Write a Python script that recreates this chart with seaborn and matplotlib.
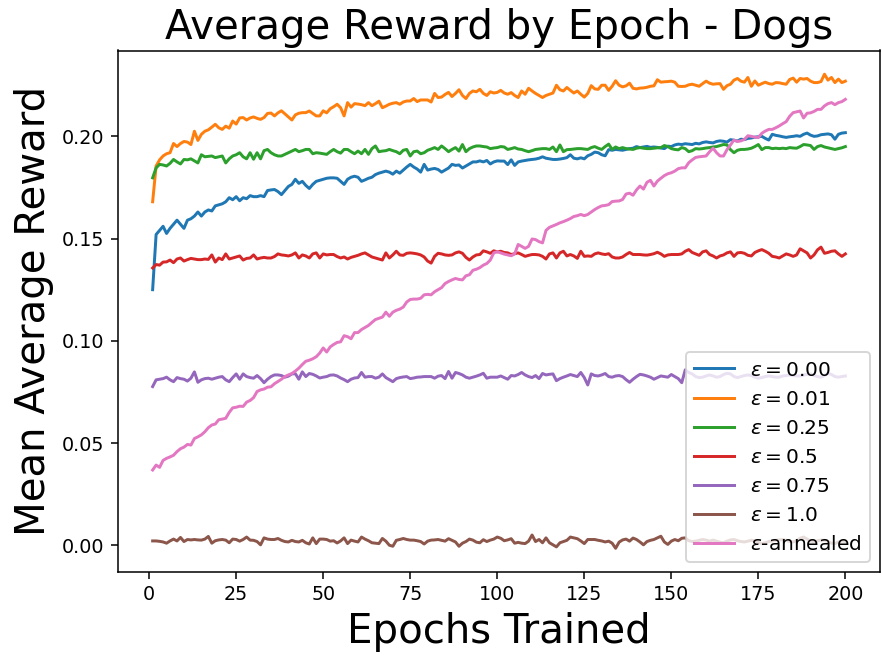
import numpy as np
import pandas as pd
import matplotlib
matplotlib.use("Agg")
import matplotlib.pyplot as plt
import seaborn as sns

# ---- data (mean average reward per epoch) ----
eps_000 = [
    0.125, 0.152, 0.154, 0.156, 0.1525, 0.155, 0.157, 0.159, 0.157, 0.155,
    0.159, 0.1597, 0.161, 0.163, 0.161, 0.163, 0.164, 0.1635, 0.166, 0.1665,
    0.167, 0.168, 0.170, 0.169, 0.1705, 0.1685, 0.170, 0.1695, 0.171, 0.1705,
    0.1705, 0.171, 0.1705, 0.1735, 0.1738, 0.174, 0.173, 0.1715, 0.1735, 0.1755,
    0.1765, 0.179, 0.177, 0.178, 0.176, 0.1745, 0.1765, 0.178, 0.1785, 0.179,
    0.1795, 0.1797, 0.1797, 0.1795, 0.178, 0.1765, 0.179, 0.180, 0.1805, 0.180,
    0.178, 0.1787, 0.1795, 0.180, 0.1813, 0.182, 0.1825, 0.183, 0.1825, 0.1815,
    0.183, 0.182, 0.1835, 0.185, 0.1863, 0.185, 0.184, 0.1825, 0.1863, 0.1835,
    0.184, 0.1843, 0.1838, 0.1825, 0.1835, 0.1845, 0.1863, 0.1858, 0.186, 0.1845,
    0.1855, 0.1865, 0.1875, 0.1875, 0.188, 0.1875, 0.1882, 0.1865, 0.1875, 0.188,
    0.1879, 0.1879, 0.1862, 0.1885, 0.1858, 0.1875, 0.1879, 0.1882, 0.1885, 0.1887,
    0.1889, 0.1893, 0.1900, 0.1893, 0.1890, 0.1887, 0.1887, 0.1889, 0.1892, 0.1896,
    0.1910, 0.1893, 0.1890, 0.1895, 0.1890, 0.1905, 0.1912, 0.1923, 0.1920, 0.1910,
    0.1905, 0.1935, 0.1932, 0.1936, 0.1934, 0.1932, 0.1936, 0.1940, 0.1942, 0.1950,
    0.1945, 0.1948, 0.1951, 0.1946, 0.1948, 0.1946, 0.1943, 0.1940, 0.1952, 0.1950,
    0.1958, 0.1962, 0.1960, 0.1964, 0.1962, 0.1960, 0.1966, 0.1963, 0.1970, 0.1973,
    0.1970, 0.1968, 0.1975, 0.1978, 0.1976, 0.1972, 0.1984, 0.1981, 0.1977, 0.1986,
    0.1984, 0.1990, 0.1992, 0.1996, 0.1998, 0.2000, 0.1990, 0.1982, 0.2010, 0.2005,
    0.2002, 0.1998, 0.1995, 0.1998, 0.2000, 0.2003, 0.2000, 0.2010, 0.2016, 0.2006,
    0.2000, 0.2002, 0.2008, 0.2010, 0.2012, 0.2008, 0.1986, 0.2010, 0.2016, 0.2018,
]

eps_001 = [
    0.168, 0.1855, 0.1885, 0.1904, 0.1915, 0.192, 0.1965, 0.195, 0.1965, 0.1975,
    0.1972, 0.196, 0.2025, 0.198, 0.201, 0.2025, 0.2032, 0.2045, 0.2059, 0.2042,
    0.2034, 0.2050, 0.2040, 0.2075, 0.2060, 0.2090, 0.2092, 0.2080, 0.2090, 0.2095,
    0.2088, 0.2083, 0.2092, 0.2112, 0.2114, 0.2100, 0.2115, 0.2125, 0.2110, 0.2095,
    0.2080, 0.2105, 0.2113, 0.2116, 0.2116, 0.2124, 0.2112, 0.2100, 0.2100, 0.2125,
    0.2115, 0.2135, 0.2145, 0.2157, 0.2140, 0.2100, 0.2165, 0.2143, 0.2160, 0.2158,
    0.2155, 0.2150, 0.2165, 0.2150, 0.2160, 0.2172, 0.2140, 0.2148, 0.2157, 0.2162,
    0.2165, 0.2157, 0.2168, 0.2173, 0.2173, 0.2185, 0.2170, 0.2178, 0.2178, 0.2178,
    0.2168, 0.2210, 0.2190, 0.2192, 0.2205, 0.2215, 0.2195, 0.2210, 0.2228, 0.2200,
    0.2185, 0.2210, 0.2222, 0.2218, 0.2230, 0.2210, 0.2200, 0.2218, 0.2212, 0.2215,
    0.2225, 0.2212, 0.2206, 0.2214, 0.2200, 0.2190, 0.2222, 0.2206, 0.2235, 0.2222,
    0.2210, 0.2200, 0.2190, 0.2200, 0.2206, 0.2212, 0.2250, 0.2228, 0.2222, 0.2239,
    0.2225, 0.2212, 0.2222, 0.2206, 0.2192, 0.2210, 0.2248, 0.2232, 0.2230, 0.2250,
    0.2250, 0.2225, 0.2245, 0.2272, 0.2250, 0.2242, 0.2247, 0.2260, 0.2235, 0.2232,
    0.2236, 0.2237, 0.2240, 0.2245, 0.2247, 0.2277, 0.2265, 0.2267, 0.2268, 0.2270,
    0.2265, 0.2245, 0.2244, 0.2245, 0.2252, 0.2255, 0.2250, 0.2245, 0.2258, 0.2270,
    0.2260, 0.2255, 0.2257, 0.2258, 0.2230, 0.2248, 0.2255, 0.2275, 0.2283, 0.2270,
    0.2265, 0.2288, 0.2245, 0.2271, 0.2250, 0.2258, 0.2265, 0.2258, 0.2255, 0.2263,
    0.2262, 0.2258, 0.2255, 0.2278, 0.2285, 0.2265, 0.2283, 0.2280, 0.2283, 0.2270,
    0.2263, 0.2263, 0.2268, 0.2304, 0.2275, 0.2288, 0.2263, 0.2280, 0.2263, 0.2270,
]

eps_025 = [
    0.1797, 0.1846, 0.1863, 0.1860, 0.1855, 0.1868, 0.1887, 0.1875, 0.1865, 0.1887,
    0.1885, 0.1890, 0.1880, 0.1870, 0.1910, 0.1900, 0.1902, 0.1904, 0.1896, 0.1900,
    0.1904, 0.1870, 0.1890, 0.1904, 0.1910, 0.1920, 0.1900, 0.1890, 0.1920, 0.1888,
    0.1920, 0.1890, 0.1930, 0.1936, 0.1920, 0.1910, 0.1904, 0.1904, 0.1912, 0.1920,
    0.1928, 0.1936, 0.1925, 0.1930, 0.1936, 0.1936, 0.1915, 0.1920, 0.1918, 0.1915,
    0.1912, 0.1925, 0.1936, 0.1925, 0.1918, 0.1936, 0.1936, 0.1925, 0.1915, 0.1928,
    0.1915, 0.1936, 0.1912, 0.1940, 0.1953, 0.1925, 0.1928, 0.1930, 0.1936, 0.1930,
    0.1925, 0.1915, 0.1932, 0.1936, 0.1904, 0.1925, 0.1928, 0.1915, 0.1920, 0.1932,
    0.1938, 0.1945, 0.1936, 0.1953, 0.1940, 0.1925, 0.1936, 0.1945, 0.1928, 0.1960,
    0.1925, 0.1940, 0.1948, 0.1953, 0.1953, 0.1950, 0.1948, 0.1940, 0.1943, 0.1945,
    0.1950, 0.1948, 0.1936, 0.1940, 0.1945, 0.1938, 0.1936, 0.1930, 0.1925, 0.1930,
    0.1936, 0.1938, 0.1940, 0.1940, 0.1936, 0.1948, 0.1925, 0.1958, 0.1925, 0.1935,
    0.1936, 0.1938, 0.1940, 0.1940, 0.1938, 0.1936, 0.1945, 0.1950, 0.1942, 0.1936,
    0.1950, 0.1962, 0.1936, 0.1948, 0.1940, 0.1945, 0.1940, 0.1938, 0.1936, 0.1942,
    0.1945, 0.1942, 0.1940, 0.1940, 0.1942, 0.1944, 0.1945, 0.1955, 0.1950, 0.1940,
    0.1936, 0.1934, 0.1945, 0.1940, 0.1925, 0.1930, 0.1940, 0.1938, 0.1940, 0.1943,
    0.1945, 0.1948, 0.1950, 0.1955, 0.1960, 0.1958, 0.1935, 0.1920, 0.1932, 0.1936,
    0.1936, 0.1938, 0.1942, 0.1950, 0.1960, 0.1935, 0.1945, 0.1945, 0.1940, 0.1942,
    0.1940, 0.1942, 0.1940, 0.1945, 0.1943, 0.1942, 0.1950, 0.1960, 0.1958, 0.1955,
    0.1936, 0.1950, 0.1955, 0.1948, 0.1944, 0.1940, 0.1936, 0.1940, 0.1944, 0.1950,
]

eps_050 = [
    0.1356, 0.1373, 0.1370, 0.1385, 0.1386, 0.1395, 0.1382, 0.1400, 0.1405, 0.1390,
    0.1397, 0.1403, 0.1400, 0.1397, 0.1397, 0.1400, 0.1398, 0.1420, 0.1385, 0.1405,
    0.1397, 0.1425, 0.1400, 0.1405, 0.1410, 0.1415, 0.1395, 0.1403, 0.1405, 0.1420,
    0.1400, 0.1405, 0.1408, 0.1405, 0.1405, 0.1412, 0.1425, 0.1420, 0.1418, 0.1415,
    0.1420, 0.1430, 0.1405, 0.1420, 0.1415, 0.1405, 0.1425, 0.1430, 0.1405, 0.1425,
    0.1420, 0.1422, 0.1422, 0.1412, 0.1405, 0.1410, 0.1400, 0.1408, 0.1413, 0.1418,
    0.1425, 0.1430, 0.1420, 0.1410, 0.1405, 0.1400, 0.1395, 0.1430, 0.1405, 0.1420,
    0.1438, 0.1420, 0.1418, 0.1428, 0.1430, 0.1428, 0.1425, 0.1420, 0.1410, 0.1390,
    0.1380, 0.1413, 0.1428, 0.1425, 0.1420, 0.1418, 0.1420, 0.1430, 0.1435, 0.1428,
    0.1408, 0.1395, 0.1410, 0.1420, 0.1422, 0.1440, 0.1435, 0.1428, 0.1440, 0.1435,
    0.1438, 0.1432, 0.1430, 0.1422, 0.1426, 0.1430, 0.1422, 0.1413, 0.1418, 0.1422,
    0.1422, 0.1420, 0.1413, 0.1400, 0.1425, 0.1430, 0.1405, 0.1430, 0.1438, 0.1415,
    0.1422, 0.1415, 0.1403, 0.1438, 0.1413, 0.1415, 0.1413, 0.1425, 0.1430, 0.1425,
    0.1422, 0.1426, 0.1410, 0.1405, 0.1405, 0.1410, 0.1422, 0.1432, 0.1422, 0.1422,
    0.1422, 0.1420, 0.1419, 0.1422, 0.1426, 0.1433, 0.1425, 0.1413, 0.1420, 0.1422,
    0.1422, 0.1422, 0.1425, 0.1438, 0.1446, 0.1432, 0.1425, 0.1418, 0.1435, 0.1440,
    0.1422, 0.1415, 0.1405, 0.1415, 0.1420, 0.1430, 0.1435, 0.1413, 0.1430, 0.1432,
    0.1428, 0.1418, 0.1415, 0.1432, 0.1440, 0.1446, 0.1438, 0.1428, 0.1413, 0.1410,
    0.1405, 0.1415, 0.1425, 0.1420, 0.1413, 0.1420, 0.1450, 0.1440, 0.1430, 0.1405,
    0.1420, 0.1445, 0.1458, 0.1428, 0.1432, 0.1438, 0.1440, 0.1425, 0.1413, 0.1425,
]

eps_075 = [
    0.0776, 0.0809, 0.0812, 0.0815, 0.0822, 0.0809, 0.0800, 0.0820, 0.0815, 0.0812,
    0.0803, 0.0817, 0.0848, 0.0797, 0.0809, 0.0815, 0.0817, 0.0812, 0.0817, 0.0822,
    0.0825, 0.0809, 0.0800, 0.0820, 0.0838, 0.0812, 0.0838, 0.0825, 0.0820, 0.0817,
    0.0830, 0.0815, 0.0795, 0.0812, 0.0825, 0.0833, 0.0833, 0.0830, 0.0822, 0.0827,
    0.0838, 0.0839, 0.0812, 0.0848, 0.0825, 0.0840, 0.0836, 0.0828, 0.0818, 0.0822,
    0.0825, 0.0832, 0.0833, 0.0828, 0.0818, 0.0810, 0.0800, 0.0812, 0.0818, 0.0820,
    0.0845, 0.0822, 0.0825, 0.0825, 0.0817, 0.0822, 0.0838, 0.0820, 0.0810, 0.0800,
    0.0815, 0.0820, 0.0823, 0.0825, 0.0815, 0.0818, 0.0822, 0.0823, 0.0825, 0.0825,
    0.0825, 0.0817, 0.0827, 0.0830, 0.0815, 0.0850, 0.0817, 0.0845, 0.0840, 0.0833,
    0.0822, 0.0817, 0.0822, 0.0827, 0.0833, 0.0841, 0.0817, 0.0822, 0.0822, 0.0822,
    0.0828, 0.0820, 0.0812, 0.0830, 0.0828, 0.0835, 0.0845, 0.0833, 0.0825, 0.0820,
    0.0830, 0.0815, 0.0840, 0.0833, 0.0836, 0.0838, 0.0805, 0.0815, 0.0822, 0.0828,
    0.0835, 0.0830, 0.0825, 0.0845, 0.0820, 0.0784, 0.0838, 0.0830, 0.0828, 0.0833,
    0.0840, 0.0825, 0.0822, 0.0828, 0.0830, 0.0825, 0.0810, 0.0797, 0.0812, 0.0825,
    0.0836, 0.0833, 0.0828, 0.0822, 0.0812, 0.0820, 0.0828, 0.0825, 0.0822, 0.0835,
    0.0825, 0.0815, 0.0795, 0.0858, 0.0845, 0.0838, 0.0825, 0.0820, 0.0822, 0.0828,
    0.0833, 0.0828, 0.0822, 0.0825, 0.0835, 0.0841, 0.0838, 0.0825, 0.0820, 0.0825,
    0.0830, 0.0833, 0.0830, 0.0822, 0.0817, 0.0820, 0.0825, 0.0828, 0.0825, 0.0822,
    0.0822, 0.0828, 0.0830, 0.0833, 0.0830, 0.0828, 0.0828, 0.0832, 0.0836, 0.0838,
    0.0830, 0.0825, 0.0822, 0.0830, 0.0841, 0.0835, 0.0825, 0.0822, 0.0825, 0.0828,
]

eps_100 = [
    0.0021, 0.0021, 0.0019, 0.0016, 0.0010, 0.0021, 0.0030, 0.0021, 0.0038, 0.0018,
    0.0028, 0.0026, 0.0028, 0.0026, 0.0025, 0.0030, 0.0043, 0.0010, 0.0022, 0.0026,
    0.0028, 0.0025, 0.0012, 0.0030, 0.0028, 0.0020, 0.0028, 0.0040, 0.0025, 0.0024,
    0.0018, 0.0002, 0.0036, 0.0030, 0.0028, 0.0028, 0.0033, 0.0024, 0.0018, 0.0016,
    0.0024, 0.0018, 0.0016, 0.0024, 0.0012, 0.0006, 0.0036, 0.0008, 0.0030, 0.0030,
    0.0028, 0.0020, 0.0022, 0.0011, 0.0021, 0.0036, 0.0008, 0.0025, 0.0020, 0.0016,
    0.0040, 0.0030, 0.0022, 0.0012, 0.0010, 0.0008, 0.0033, 0.0020, 0.0000, -0.0005,
    0.0024, 0.0028, 0.0033, 0.0028, 0.0025, 0.0025, 0.0022, 0.0018, 0.0006, 0.0020,
    0.0025, 0.0026, 0.0028, 0.0024, 0.0020, 0.0032, 0.0024, 0.0016, -0.0005, 0.0010,
    0.0018, 0.0030, 0.0025, 0.0015, 0.0012, 0.0027, 0.0018, 0.0025, 0.0030, 0.0040,
    0.0034, 0.0022, 0.0026, 0.0032, 0.0010, 0.0014, 0.0010, 0.0008, 0.0020, 0.0050,
    0.0018, 0.0028, 0.0012, 0.0036, 0.0012, 0.0002, -0.0008, 0.0012, 0.0018, 0.0024,
    0.0040, 0.0036, 0.0032, 0.0021, 0.0008, 0.0028, 0.0028, 0.0028, 0.0024, 0.0021,
    0.0016, 0.0020, 0.0010, -0.0015, 0.0015, 0.0026, 0.0030, 0.0020, 0.0035, 0.0028,
    0.0016, 0.0002, 0.0018, 0.0024, 0.0028, 0.0036, 0.0044, 0.0016, 0.0004, 0.0020,
    0.0028, 0.0022, 0.0034, 0.0036, 0.0022, 0.0018, 0.0020, 0.0024, 0.0028, 0.0025,
    0.0020, 0.0025, 0.0020, 0.0015, 0.0012, 0.0020, 0.0026, 0.0028, 0.0022, 0.0018,
    0.0016, 0.0020, 0.0024, 0.0022, 0.0014, 0.0008, 0.0012, 0.0018, 0.0021, 0.0024,
    0.0026, 0.0028, 0.0024, 0.0018, 0.0016, 0.0022, 0.0034, 0.0040, 0.0030, 0.0020,
    0.0016, 0.0022, 0.0025, 0.0024, 0.0018, 0.0010, 0.0008, 0.0016, 0.0021, 0.0018,
]

eps_annealed = [
    0.0368, 0.0392, 0.0381, 0.0415, 0.0425, 0.0432, 0.0440, 0.0458, 0.0472, 0.0480,
    0.0493, 0.0490, 0.0522, 0.0530, 0.0540, 0.0555, 0.0575, 0.0588, 0.0593, 0.0614,
    0.0617, 0.0621, 0.0650, 0.0672, 0.0675, 0.0680, 0.0679, 0.0700, 0.0708, 0.0722,
    0.0752, 0.0760, 0.0764, 0.0773, 0.0775, 0.0790, 0.0801, 0.0812, 0.0825, 0.0833,
    0.0840, 0.0852, 0.0866, 0.0884, 0.0900, 0.0905, 0.0912, 0.0922, 0.0940, 0.0965,
    0.0945, 0.0970, 0.0982, 0.0992, 0.0995, 0.1025, 0.1020, 0.1010, 0.1040, 0.1040,
    0.1055, 0.1065, 0.1075, 0.1090, 0.1104, 0.1110, 0.1116, 0.1140, 0.1120, 0.1140,
    0.1149, 0.1155, 0.1165, 0.1190, 0.1202, 0.1204, 0.1204, 0.1208, 0.1225, 0.1227,
    0.1225, 0.1240, 0.1250, 0.1260, 0.1280, 0.1290, 0.1298, 0.1305, 0.1300, 0.1298,
    0.1318, 0.1323, 0.1345, 0.1350, 0.1358, 0.1370, 0.1378, 0.1395, 0.1430, 0.1436,
    0.1430, 0.1424, 0.1420, 0.1416, 0.1425, 0.1471, 0.1462, 0.1452, 0.1462, 0.1498,
    0.1495, 0.1485, 0.1479, 0.1540, 0.1555, 0.1562, 0.1569, 0.1577, 0.1583, 0.1590,
    0.1598, 0.1608, 0.1612, 0.1618, 0.1612, 0.1618, 0.1630, 0.1642, 0.1652, 0.1660,
    0.1662, 0.1666, 0.1681, 0.1683, 0.1684, 0.1691, 0.1718, 0.1722, 0.1712, 0.1738,
    0.1757, 0.1742, 0.1775, 0.1785, 0.1757, 0.1781, 0.1795, 0.1808, 0.1817, 0.1822,
    0.1830, 0.1842, 0.1846, 0.1846, 0.1871, 0.1885, 0.1897, 0.1900, 0.1902, 0.1904,
    0.1925, 0.1942, 0.1920, 0.1904, 0.1904, 0.1935, 0.1958, 0.1982, 0.1975, 0.1978,
    0.1985, 0.2003, 0.2000, 0.1996, 0.1994, 0.2015, 0.2026, 0.2034, 0.2034, 0.2042,
    0.2051, 0.2062, 0.2072, 0.2098, 0.2116, 0.2120, 0.2124, 0.2090, 0.2113, 0.2115,
    0.2122, 0.2132, 0.2132, 0.2149, 0.2160, 0.2165, 0.2155, 0.2165, 0.2170, 0.2181,
]

series_labels = [r"$\epsilon = 0.00$", r"$\epsilon = 0.01$", r"$\epsilon = 0.25$",
                 r"$\epsilon = 0.5$", r"$\epsilon = 0.75$", r"$\epsilon = 1.0$",
                 r"$\epsilon$-annealed"]
series_values = [eps_000, eps_001, eps_025, eps_050, eps_075, eps_100, eps_annealed]

title_text = "Average Reward by Epoch - Dogs"
x_label = "Epochs Trained"
y_label = "Mean Average Reward"
x_ticks = [0, 25, 50, 75, 100, 125, 150, 175, 200]
y_ticks = [0.00, 0.05, 0.10, 0.15, 0.20]

# ---- long-form table for seaborn ----
frames = []
for lab, vals in zip(series_labels, series_values):
    frames.append(pd.DataFrame({
        "epoch": np.arange(1, len(vals) + 1),
        "reward": vals,
        "series": lab,
    }))
df = pd.concat(frames, ignore_index=True)

DPI = 138
fig = plt.figure(figsize=(882 / DPI, 656 / DPI), dpi=DPI)
ax = fig.add_axes([118 / 882, 1 - 572 / 656, (880 - 118) / 882, (572 - 50.5) / 656])

palette = sns.color_palette("tab10", len(series_labels))
sns.lineplot(data=df, x="epoch", y="reward", hue="series",
             hue_order=series_labels, palette=palette,
             estimator=None, linewidth=1.55, ax=ax, legend=False)

for lab, col in zip(series_labels, palette):
    ax.plot([], [], color=col, linewidth=1.55, label=lab)

ax.set_xticks(x_ticks)
ax.set_yticks(y_ticks)
ax.tick_params(labelsize=10)
ax.set_title(title_text, fontsize=21)
ax.set_xlabel(x_label, fontsize=21)
ax.set_ylabel(y_label, fontsize=21)
ax.legend(loc="lower right", fontsize=10.5)

fig.savefig("out.png", dpi=DPI)
